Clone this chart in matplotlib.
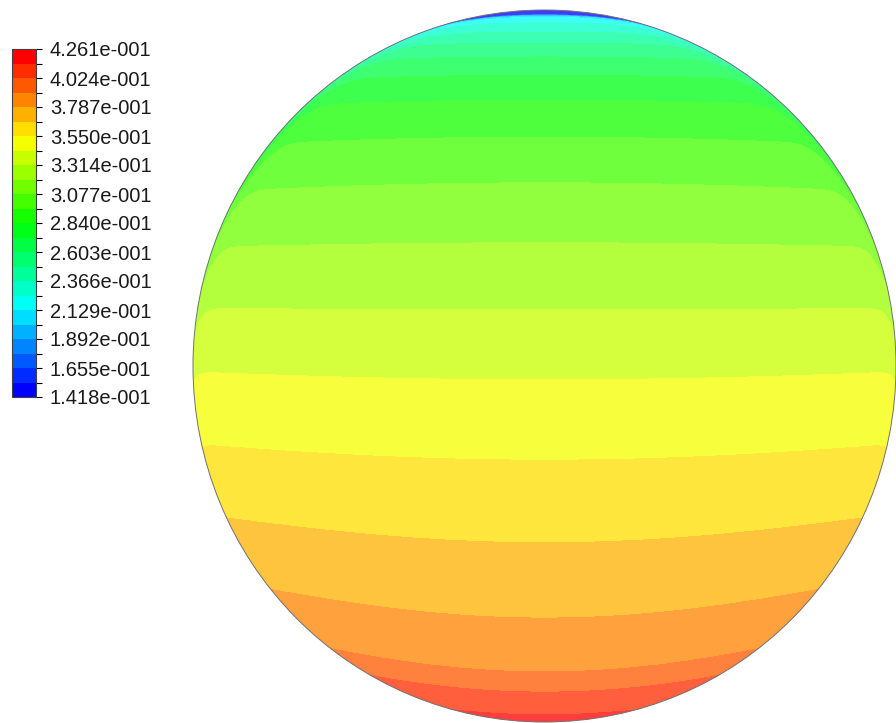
import colorsys
import numpy as np
import matplotlib
matplotlib.use('Agg')
import matplotlib.pyplot as plt
import matplotlib.colors as mcolors
from matplotlib.patches import Circle

# Contour range and legend labels
vmin, vmax = 0.1418, 0.4261
n_bands = 24
tick_labels = ['1.418e-001', '1.655e-001', '1.892e-001', '2.129e-001',
               '2.366e-001', '2.603e-001', '2.840e-001', '3.077e-001',
               '3.314e-001', '3.550e-001', '3.787e-001', '4.024e-001',
               '4.261e-001']

# Values (height: -1 bottom, 1 top)
profile_height = [1.0, 0.992, 0.986, 0.966, 0.938, 0.907, 0.868, 0.817,
                  0.747, 0.643, 0.514, 0.346, 0.157, -0.039, -0.264,
                  -0.497, -0.708, -0.860, -0.916, -0.980, -1.0]
profile_value = [0.1418, 0.2010, 0.2129, 0.2247, 0.2366, 0.2484, 0.2603,
                 0.2721, 0.2840, 0.2958, 0.3077, 0.3195, 0.3314, 0.3432,
                 0.3550, 0.3669, 0.3787, 0.3906, 0.4024, 0.4143, 0.4261]

# How far the bands bend toward the sides, and the thin layer at the wall
side_height = [-1.0, -0.85, -0.5, -0.26, 0.0, 0.5, 1.0]
side_rise = [0.20, 0.19, 0.10, 0.05, 0.02, -0.03, -0.03]
wall_height = [-1.0, -0.3, 0.0, 0.3, 0.6, 0.8, 0.95, 1.0]
wall_amount = [0.0, 0.0, 0.04, 0.18, 0.25, 0.12, 0.04, 0.03]


def band_colors(lighten=0.0):
    """Fluent style rainbow, blue at the bottom band and red at the top."""
    cols = []
    for k in range(n_bands):
        r, g, b = colorsys.hsv_to_rgb(240 * (1 - k / (n_bands - 1)) / 360, 1, 1)
        cols.append((r + (1 - r) * lighten, g + (1 - g) * lighten,
                     b + (1 - b) * lighten))
    return cols


def build_field(n=900):
    x = np.linspace(-1, 1, n)
    X, Y = np.meshgrid(x, x)
    R = np.minimum(np.sqrt(X ** 2 + Y ** 2), 1.0)
    rise = np.interp(Y, side_height, side_rise)
    wall = np.interp(Y, wall_height, wall_amount)
    h = Y - rise * X ** 2 + wall * np.exp(-(1 - R) / 0.012)
    h = np.clip(h, -1, 1)
    V = np.interp(-h, -np.array(profile_height), profile_value)
    return X, Y, np.clip(V, vmin, vmax)


fig = plt.figure(figsize=(8.96, 7.23), dpi=100)
plt.rcParams['font.family'] = ['Liberation Sans', 'DejaVu Sans']

levels = np.linspace(vmin, vmax, n_bands + 1)
norm = mcolors.BoundaryNorm(levels, n_bands)

ax = fig.add_axes([193 / 896, 1 / 723, 703 / 896, 712 / 723])
X, Y, V = build_field()
cs = ax.contourf(X, Y, V, levels=levels,
                 cmap=mcolors.ListedColormap(band_colors(0.24)), norm=norm)
clip = Circle((0, 0), 1.0, transform=ax.transData)
cs.set_clip_path(clip)
ax.add_patch(Circle((0, 0), 1.0, fill=False, edgecolor='#707070',
                    linewidth=0.7, clip_on=False))
ax.set_xlim(-1, 1)
ax.set_ylim(-1, 1)
ax.axis('off')

cax = fig.add_axes([12 / 896, (723 - 397) / 723, 24 / 896, 348 / 723])
sm = plt.cm.ScalarMappable(norm=norm, cmap=mcolors.ListedColormap(band_colors()))
cb = fig.colorbar(sm, cax=cax, ticks=levels)
cb.ax.set_yticklabels([tick_labels[i // 2] if i % 2 == 0 else ''
                       for i in range(n_bands + 1)])
cb.ax.tick_params(axis='y', length=4, width=0.8, pad=6, labelsize=14.5,
                  colors='black', labelcolor='#1a1a1a')
cb.outline.set_linewidth(0.8)
cb.outline.set_edgecolor('#404040')

fig.savefig('out.png', dpi=100, facecolor='white')
